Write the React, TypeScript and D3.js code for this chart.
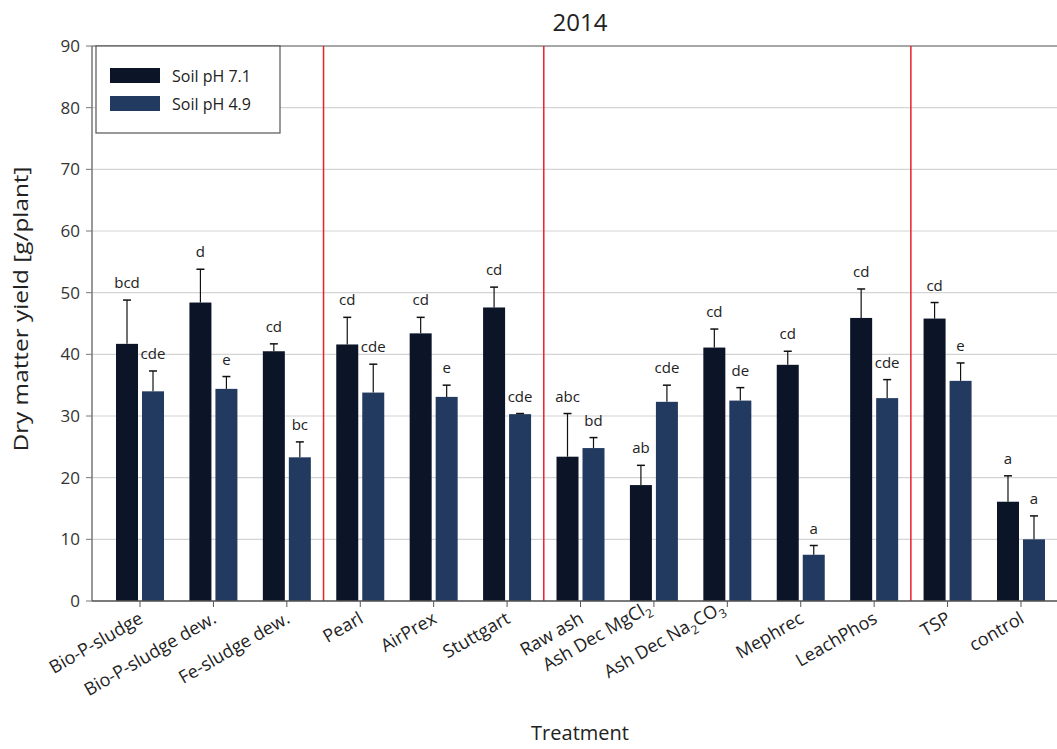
import React from "react";
import * as d3 from "d3";

const treatments = [
  "Bio-P-sludge",
  "Bio-P-sludge dew.",
  "Fe-sludge dew.",
  "Pearl",
  "AirPrex",
  "Stuttgart",
  "Raw ash",
  "Ash Dec MgCl2",
  "Ash Dec Na2CO3",
  "Mephrec",
  "LeachPhos",
  "TSP",
  "control",
];
const ph71 = [41.7, 48.4, 40.5, 41.6, 43.4, 47.6, 23.4, 18.8, 41.1, 38.3, 45.9, 45.8, 16.1];
const ph71Err = [7.1, 5.4, 1.2, 4.4, 2.6, 3.3, 7.0, 3.2, 3.0, 2.2, 4.7, 2.6, 4.2];
const ph49 = [34.0, 34.4, 23.3, 33.8, 33.1, 30.3, 24.8, 32.3, 32.5, 7.5, 32.9, 35.7, 10.0];
const ph49Err = [3.3, 2.0, 2.5, 4.6, 1.9, 0.1, 1.7, 2.7, 2.1, 1.5, 3.0, 2.9, 3.8];
const ph71Letters = ["bcd", "d", "cd", "cd", "cd", "cd", "abc", "ab", "cd", "cd", "cd", "cd", "a"];
const ph49Letters = ["cde", "e", "bc", "cde", "e", "cde", "bd", "cde", "de", "a", "cde", "e", "a"];
const yTicks = [0, 10, 20, 30, 40, 50, 60, 70, 80, 90];
const groupBreaks = [3, 6, 11];

const W = 1057;
const H = 749;
const left = 92;
const top = 46;
const bottom = 601;
const FONT = "'Open Sans', 'Noto Sans', sans-serif";

const labelParts: Record<string, [string, string][]> = {
  "Ash Dec MgCl2": [["Ash Dec MgCl", "n"], ["2", "s"]],
  "Ash Dec Na2CO3": [["Ash Dec Na", "n"], ["2", "s"], ["CO", "n"], ["3", "s"]],
};

export default function App() {
  const x = d3.scaleBand<string>().domain(treatments).range([103.3, 1057.7]);
  const y = d3.scaleLinear().domain([0, 90]).range([bottom, top]);
  const bw = 22;
  const gap = 4;
  const series = [
    { vals: ph71, err: ph71Err, letters: ph71Letters, color: "#0c1527", off: -gap / 2 - bw },
    { vals: ph49, err: ph49Err, letters: ph49Letters, color: "#233a60", off: gap / 2 },
  ];

  return (
    <svg width={W} height={H} style={{ position: "absolute", left: 0, top: 0, background: "#fff" }} fontFamily={FONT}>
      <rect width={W} height={H} fill="#fff" />
      {yTicks.map((t) => (
        <g key={t}>
          <line x1={left} x2={W} y1={y(t)} y2={y(t)} stroke={t === 90 ? "#8a8a8a" : "#d4d4d4"} strokeWidth={t === 90 ? 1.5 : 1.2} />
          <line x1={left - 6} x2={left} y1={y(t)} y2={y(t)} stroke="#777" />
          <text x={left - 12} y={y(t)} dy="0.35em" textAnchor="end" fontSize={17} fill="#333">
            {t}
          </text>
        </g>
      ))}
      {groupBreaks.map((i) => (
        <line key={i} x1={x(treatments[i])!} x2={x(treatments[i])!} y1={top} y2={bottom} stroke="#e8212b" strokeWidth={1.5} />
      ))}
      {series.map((s, si) =>
        treatments.map((t, i) => {
          const cx = x(t)! + x.bandwidth() / 2;
          const bx = cx + s.off;
          const v = s.vals[i];
          const et = y(v + s.err[i]);
          const mid = bx + bw / 2;
          return (
            <g key={si + "-" + t}>
              <rect x={bx} y={y(v)} width={bw} height={bottom - y(v)} fill={s.color} />
              <line x1={mid} x2={mid} y1={y(v)} y2={et} stroke="#111" strokeWidth={1.2} />
              <line x1={mid - 4} x2={mid + 4} y1={et} y2={et} stroke="#111" strokeWidth={1.5} />
              <text x={mid} y={et - 12} textAnchor="middle" fontSize={15} fill="#222">
                {s.letters[i]}
              </text>
            </g>
          );
        })
      )}
      <line x1={left} x2={left} y1={top} y2={bottom} stroke="#777" strokeWidth={1.5} />
      <line x1={left} x2={W} y1={bottom} y2={bottom} stroke="#555" strokeWidth={1.5} />
      {treatments.map((t) => {
        const cx = x(t)! + x.bandwidth() / 2;
        const parts = labelParts[t];
        return (
          <g key={t}>
            <line x1={cx} x2={cx} y1={bottom} y2={bottom + 6} stroke="#555" />
            <text transform={`translate(${cx - 2},${bottom + 10}) rotate(-30)`} textAnchor="end" dy="0.7em" fontSize={18} fill="#222">
              {parts
                ? parts.map(([txt, k], j) =>
                    k === "s" ? (
                      <tspan key={j} fontSize={12} dy={5}>{txt}</tspan>
                    ) : (
                      <tspan key={j} dy={j === 0 ? 0 : -5}>{txt}</tspan>
                    )
                  )
                : t}
            </text>
          </g>
        );
      })}
      <g>
        <rect x={96} y={46} width={184} height={87} fill="#fff" stroke="#555" strokeWidth={1.2} />
        <rect x={110} y={68} width={50} height={15} fill={series[0].color} />
        <text x={172} y={76} dy="0.35em" fontSize={16} fill="#222">Soil pH 7.1</text>
        <rect x={110} y={96} width={50} height={15} fill={series[1].color} />
        <text x={172} y={104} dy="0.35em" fontSize={16} fill="#222">Soil pH 4.9</text>
      </g>
      <text x={580} y={31} textAnchor="middle" fontSize={24} fill="#222">2014</text>
      <text
        transform={`translate(21,309) rotate(-90)`}
        textAnchor="middle"
        dy="0.35em"
        fontSize={20}
        fill="#222"
        textLength={285}
        lengthAdjust="spacingAndGlyphs"
      >
        Dry matter yield [g/plant]
      </text>
      <text x={580} y={733} textAnchor="middle" dy="0.35em" fontSize={20} fill="#222">Treatment</text>
    </svg>
  );
}
